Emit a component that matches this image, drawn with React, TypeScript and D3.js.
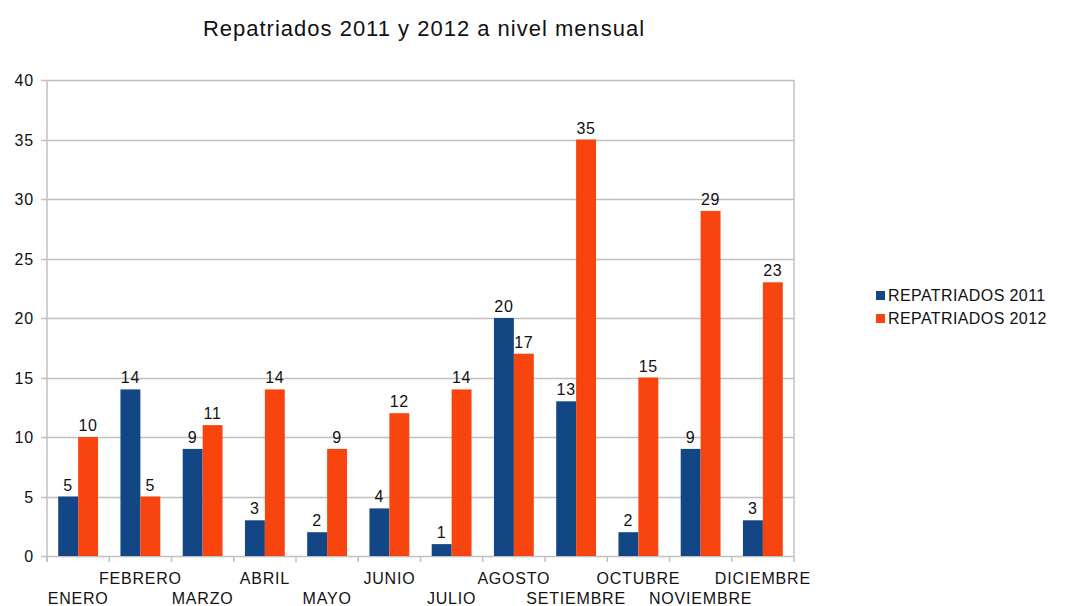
import { useEffect, useRef } from "react";
import * as d3 from "d3";

const months = ["ENERO", "FEBRERO", "MARZO", "ABRIL", "MAYO", "JUNIO", "JULIO", "AGOSTO", "SETIEMBRE", "OCTUBRE", "NOVIEMBRE", "DICIEMBRE"];
const values2011 = [5, 14, 9, 3, 2, 4, 1, 20, 13, 2, 9, 3];
const values2012 = [10, 5, 11, 14, 9, 12, 14, 17, 35, 15, 29, 23];
const seriesNames = ["REPATRIADOS 2011", "REPATRIADOS 2012"];
const yTicks = [0, 5, 10, 15, 20, 25, 30, 35, 40];

const colors = ["#134684", "#f8450f"];
const font = "'Liberation Sans', Arial, sans-serif";

export default function App() {
  const ref = useRef<SVGSVGElement>(null);

  useEffect(() => {
    const svg = d3.select(ref.current);
    svg.selectAll("*").remove();

    const margin = { top: 80, left: 47, right: 273, bottom: 50 };
    const width = 1067 - margin.left - margin.right;
    const height = 556 - margin.top;

    // scales
    const x = d3.scaleBand().domain(months).range([0, width]).paddingInner(0).paddingOuter(0);
    const y = d3.scaleLinear().domain([0, 40]).range([height, 0]);
    const groupW = x.bandwidth() * 0.64;
    const x1 = d3.scaleBand().domain(seriesNames).range([0, groupW]);

    svg.append("rect").attr("width", 1067).attr("height", 606).attr("fill", "#fff");

    svg.append("text")
      .attr("x", 424).attr("y", 36)
      .attr("text-anchor", "middle")
      .style("font-family", font).style("font-size", "22px").style("letter-spacing", "1px").attr("fill", "#111")
      .text("Repatriados 2011 y 2012 a nivel mensual");

    const g = svg.append("g").attr("transform", `translate(${margin.left},${margin.top})`);

    // horizontal grid
    g.selectAll(".grid")
      .data(yTicks)
      .enter()
      .append("line")
      .attr("x1", -6).attr("x2", width)
      .attr("y1", (d) => Math.round(y(d)) + 0.5).attr("y2", (d) => Math.round(y(d)) + 0.5)
      .attr("stroke", "#c0c0c0").attr("stroke-width", 1.5);

    // right border + left axis
    g.append("line").attr("x1", width).attr("x2", width).attr("y1", 0).attr("y2", height).attr("stroke", "#c0c0c0").attr("stroke-width", 1.5);
    g.append("line").attr("x1", 0).attr("x2", 0).attr("y1", 0).attr("y2", height + 6).attr("stroke", "#c0c0c0").attr("stroke-width", 1.5);

    // x tick marks at category boundaries
    const bounds = months.map((m) => x(m)!).concat([width]);
    g.selectAll(".xtick")
      .data(bounds)
      .enter()
      .append("line")
      .attr("x1", (d) => d).attr("x2", (d) => d)
      .attr("y1", height).attr("y2", height + 6)
      .attr("stroke", "#c0c0c0").attr("stroke-width", 1.5);

    const label = (sel: any) =>
      sel.style("font-family", font).style("font-size", "16px").style("letter-spacing", "0.8px").attr("fill", "#111");

    // y tick labels
    g.selectAll(".ylabel")
      .data(yTicks)
      .enter()
      .append("text")
      .attr("x", -13).attr("y", (d) => y(d) + 6)
      .attr("text-anchor", "end")
      .call(label)
      .text((d) => d);

    // x labels, alternating rows
    g.selectAll(".xlabel")
      .data(months)
      .enter()
      .append("text")
      .attr("x", (d) => x(d)! + x.bandwidth() / 2)
      .attr("y", (d, i) => (i % 2 === 0 ? height + 48 : height + 28))
      .attr("text-anchor", "middle")
      .call(label)
      .text((d) => d);

    const series = [values2011, values2012];
    series.forEach((vals, si) => {
      const off = (x.bandwidth() - groupW) / 2 + x1(seriesNames[si])!;
      g.selectAll(".bar" + si)
        .data(vals)
        .enter()
        .append("rect")
        .attr("x", (d, i) => x(months[i])! + off)
        .attr("y", (d) => y(d))
        .attr("width", x1.bandwidth())
        .attr("height", (d) => height - y(d))
        .attr("fill", colors[si]);

      g.selectAll(".lbl" + si)
        .data(vals)
        .enter()
        .append("text")
        .attr("x", (d, i) => x(months[i])! + off + x1.bandwidth() / 2)
        .attr("y", (d) => y(d) - 6)
        .attr("text-anchor", "middle")
        .call(label)
        .text((d) => d);
    });

    // legend
    const legend = svg.append("g").attr("transform", "translate(876,291)");
    seriesNames.forEach((name, i) => {
      legend.append("rect").attr("x", 0).attr("y", i * 23).attr("width", 9).attr("height", 9).attr("fill", colors[i]);
      legend.append("text")
        .attr("x", 12).attr("y", i * 23 + 10)
        .call(label)
        .style("letter-spacing", "0.4px")
        .text(name);
    });
  }, []);

  return (
    <div>
      <svg ref={ref} width={1067} height={606} style={{ position: "absolute", left: 0, top: 0 }} />
    </div>
  );
}
